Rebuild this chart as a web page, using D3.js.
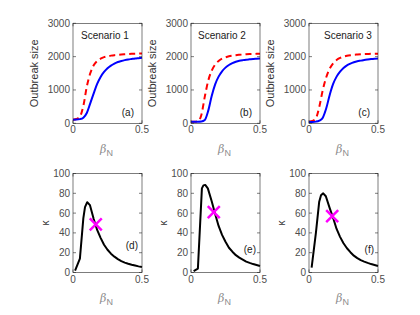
<!DOCTYPE html>
<html><head><meta charset="utf-8">
<script src="https://cdn.jsdelivr.net/npm/d3@7"></script>
<style>body{margin:0;background:#fff}svg{display:block}text{font-family:"Liberation Sans",Arial,sans-serif}</style>
</head><body>
<svg id="c" width="420" height="315"></svg>
<script>
const betaGrid = [0,0.025,0.05,0.075,0.1,0.125,0.15,0.175,0.2,0.225,0.25,0.275,0.3,0.325,0.35,0.375,0.4,0.425,0.45,0.475,0.5];
const blueA = [110,112,125,170,310,600,900,1180,1390,1540,1650,1730,1790,1840,1870,1895,1915,1930,1945,1955,1965];
const redA  = [110,130,200,520,1100,1500,1740,1870,1940,1985,2010,2030,2045,2055,2065,2072,2078,2083,2087,2090,2092];
const blueB = [50,50,50,55,100,380,820,1170,1400,1560,1670,1750,1805,1845,1875,1895,1910,1920,1930,1937,1943];
const redB  = [50,50,60,250,800,1280,1580,1760,1870,1940,1980,2010,2030,2045,2055,2063,2070,2076,2080,2084,2088];
const blueC = [40,42,50,80,170,450,850,1180,1400,1550,1660,1740,1790,1830,1860,1880,1900,1915,1928,1938,1945];
const redC  = [50,70,150,500,1000,1380,1640,1800,1900,1960,2000,2025,2042,2055,2063,2070,2076,2080,2084,2087,2090];

const kappaBetaD = [0.015,0.05,0.075,0.087,0.103,0.123,0.15,0.175,0.2,0.225,0.25,0.275,0.3,0.325,0.35,0.375,0.4,0.425,0.45,0.475,0.5];
const kappaD     = [2,14,55,66,71,68,54,43,35,28,23,19,16,13.5,11.5,10,8.8,7.8,7,6.2,5.5];
const kappaBetaE = [0.019,0.05,0.079,0.09,0.103,0.122,0.15,0.175,0.2,0.225,0.25,0.275,0.3,0.325,0.35,0.375,0.4,0.425,0.45,0.475,0.5];
const kappaE     = [1.5,4,85,88,88.5,85,72,59,47,38,31,25,21,17.5,15,13,11,9.7,8.5,7.5,6.5];
const kappaBetaF = [0.019,0.05,0.074,0.087,0.103,0.122,0.15,0.175,0.2,0.225,0.25,0.275,0.3,0.325,0.35,0.375,0.4,0.425,0.45,0.475,0.5];
const kappaF     = [5,40,71.5,78,80,77,65,55,44,36,29.5,24.5,20.5,17,14.5,12.5,11,9.7,8.5,7.5,6.5];
const crossBeta  = [0.165,0.165,0.168];
const crossKappa = [48.5,61,57];

const xTicks = [0,0.5];
const yTicksTop = [0,1000,2000,3000];
const yTicksBot = [0,20,40,60,80,100];
const scenarioLabels = ["Scenario 1","Scenario 2","Scenario 3"];
const panelLabels = ["(a)","(b)","(c)","(d)","(e)","(f)"];

const svg = d3.select("#c");
const lefts = [73,191,309];
const W = 69;
const topRow = {y0:23.3, y1:123.3};
const botRow = {y0:173.5, y1:272.5};
const axisCol = "#262626";
const labCol = "#4d4d4d";

function drawAxes(g, x, y, yt, ytFmt){
  const [xa,xb] = x.range(); const [ya,yb] = y.range();
  // ticks inside
  const tl = 3;
  yt.forEach(v=>{
    g.append("line").attr("x1",xa).attr("x2",xa+tl).attr("y1",y(v)).attr("y2",y(v)).attr("stroke",axisCol).attr("stroke-width",0.6);
    g.append("line").attr("x1",xb).attr("x2",xb-tl).attr("y1",y(v)).attr("y2",y(v)).attr("stroke",axisCol).attr("stroke-width",0.6);
    g.append("text").attr("x",xa-3).attr("y",y(v)).attr("dy","0.35em").attr("text-anchor","end")
      .attr("font-size",10).attr("fill",labCol).text(ytFmt(v));
  });
  xTicks.forEach(v=>{
    g.append("line").attr("x1",x(v)).attr("x2",x(v)).attr("y1",ya).attr("y2",ya-tl).attr("stroke",axisCol).attr("stroke-width",0.6);
    g.append("line").attr("x1",x(v)).attr("x2",x(v)).attr("y1",yb).attr("y2",yb+tl).attr("stroke",axisCol).attr("stroke-width",0.6);
    g.append("text").attr("x",x(v)).attr("y",ya+10).attr("text-anchor","middle")
      .attr("font-size",10).attr("fill",labCol).text(v===0?"0":String(v));
  });
  g.append("rect").attr("x",xa).attr("y",yb).attr("width",xb-xa).attr("height",ya-yb)
    .attr("fill","none").attr("stroke",axisCol).attr("stroke-width",0.6);
}

function betaLabel(cx, cy){
  const t = svg.append("text").attr("x",cx).attr("y",cy).attr("text-anchor","middle").attr("fill","#8c8c8c").attr("font-size",11);
  t.append("tspan").attr("font-style","italic").attr("font-family","DejaVu Serif, serif").text("β");
  t.append("tspan").attr("dy",3).attr("font-size",9).text("N");
}

const topBlue=[blueA,blueB,blueC], topRed=[redA,redB,redC];
const botBeta=[kappaBetaD,kappaBetaE,kappaBetaF], botK=[kappaD,kappaE,kappaF];
const scenX=[81,198,324];

for(let i=0;i<3;i++){
  const x = d3.scaleLinear().domain([0,0.5]).range([lefts[i],lefts[i]+W]);
  // top panel
  const yT = d3.scaleLinear().domain([0,3000]).range([topRow.y1,topRow.y0]);
  const g = svg.append("g");
  const line = d3.line().x(d=>x(d[0])).y(d=>yT(d[1])).curve(d3.curveMonotoneX);
  g.append("path").attr("d",line(betaGrid.map((b,j)=>[b,topRed[i][j]])))
    .attr("fill","none").attr("stroke","#ff0000").attr("stroke-width",2).attr("stroke-dasharray","6,4");
  g.append("path").attr("d",line(betaGrid.map((b,j)=>[b,topBlue[i][j]])))
    .attr("fill","none").attr("stroke","#0000ff").attr("stroke-width",2);
  drawAxes(g,x,yT,yTicksTop,d=>String(d));
  g.append("text").attr("x",scenX[i]).attr("y",39).attr("font-size",10).attr("fill","#1a1a1a").text(scenarioLabels[i]);
  g.append("text").attr("x",lefts[i]+W-8).attr("y",116).attr("text-anchor","end").attr("font-size",10).attr("fill","#1a1a1a").text(panelLabels[i]);
  const ylx = lefts[i]-35;
  g.append("text").attr("transform",`translate(${ylx},${(topRow.y0+topRow.y1)/2}) rotate(-90)`)
    .attr("text-anchor","middle").attr("font-size",11).attr("fill","#333").text("Outbreak size");
  betaLabel(x(0.25)-1,153);

  // bottom panel
  const yB = d3.scaleLinear().domain([0,100]).range([botRow.y1,botRow.y0]);
  const gb = svg.append("g");
  const lineB = d3.line().x(d=>x(d[0])).y(d=>yB(d[1]));
  gb.append("path").attr("d",lineB(botBeta[i].map((b,j)=>[b,botK[i][j]])))
    .attr("fill","none").attr("stroke","#000").attr("stroke-width",2).attr("stroke-linejoin","round");
  const cx = x(crossBeta[i]), cy = yB(crossKappa[i]), s=6;
  gb.append("path").attr("d",`M${cx-s},${cy-s}L${cx+s},${cy+s}M${cx-s},${cy+s}L${cx+s},${cy-s}`)
    .attr("stroke","#ff00ff").attr("stroke-width",2.5).attr("fill","none");
  drawAxes(gb,x,yB,yTicksBot,d=>String(d));
  const ply = i===0?249:253;
  gb.append("text").attr("x",lefts[i]+W-4).attr("y",ply).attr("text-anchor","end").attr("font-size",10).attr("fill","#1a1a1a").text(panelLabels[i+3]);
  gb.append("text").attr("transform",`translate(${lefts[i]-24},${(botRow.y0+botRow.y1)/2}) rotate(-90)`)
    .attr("text-anchor","middle").attr("font-size",10).attr("fill","#333").text("κ");
  betaLabel(x(0.25)-1,302);
}
</script>
</body></html>
